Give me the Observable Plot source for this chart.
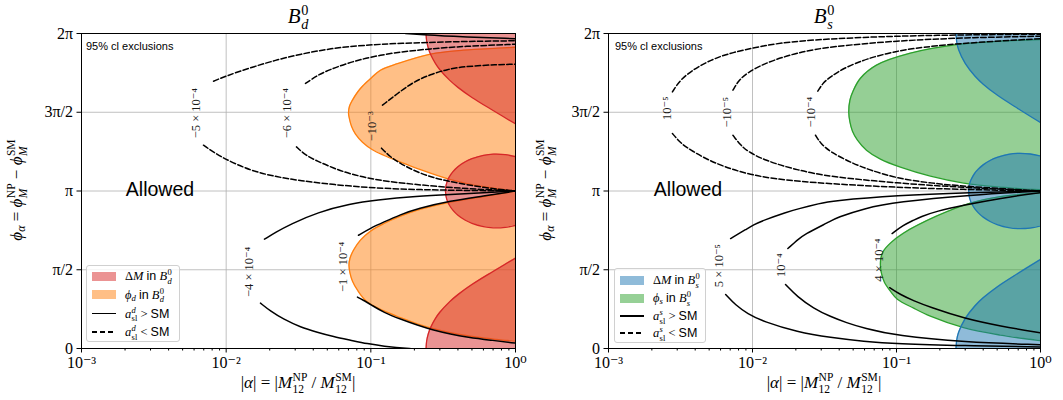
<!DOCTYPE html>
<html>
<head>
<meta charset="utf-8">
<script src="https://cdn.jsdelivr.net/npm/d3@7"></script>
<script src="https://cdn.jsdelivr.net/npm/@observablehq/plot@0.6"></script>
<style>
  html,body{margin:0;padding:0;background:#fff;}
  #wrap{position:relative;width:1063px;height:400px;overflow:hidden;font-family:"Liberation Serif","DejaVu Serif",serif;color:#000;}
  #wrap svg{position:absolute;top:0;}
  .t{position:absolute;white-space:nowrap;transform:translate(-50%,-50%);line-height:1;}
  .rot{transform:translate(-50%,-50%) rotate(-90deg);}
  .ss{display:inline-flex;flex-direction:column;vertical-align:0.6em;font-size:0.68em;line-height:1.0;margin-left:0.04em;}
  .sb{font-size:0.7em;vertical-align:-0.25em;}
  .sans{font-family:"Liberation Sans","DejaVu Sans",sans-serif;font-style:normal;}
  .legend{position:absolute;background:rgba(255,255,255,0.8);border:1px solid #d0d0d0;border-radius:3px;box-sizing:border-box;}
  .row{position:absolute;left:0;height:0;width:100%;}
  .sw{position:absolute;left:5px;width:24px;height:9px;top:-4.5px;}
  .ln{position:absolute;left:5px;width:24px;height:1.5px;top:-0.75px;background:#000;}
  .lnd{position:absolute;left:5px;width:24px;height:1.5px;top:-0.75px;background:repeating-linear-gradient(90deg,#000 0 5.5px,transparent 5.5px 8px);}
  .lt{position:absolute;left:38px;top:0;transform:translateY(-50%);font-size:12.5px;white-space:nowrap;line-height:1;}
</style>
</head>
<body>
<div id="wrap"></div>
<script>
// ---------- axes ----------
const xMajor = [0.001, 0.01, 0.1, 1];
const xMajorLabels = ["10⁻³", "10⁻²", "10⁻¹", "10⁰"];
const xMinor = [0.002,0.003,0.004,0.005,0.006,0.007,0.008,0.009,
                0.02,0.03,0.04,0.05,0.06,0.07,0.08,0.09,
                0.2,0.3,0.4,0.5,0.6,0.7,0.8,0.9];
const yMajor = [0, 0.5, 1, 1.5, 2];            // phi_alpha in units of pi
const yMajorLabels = ["0", "π/2", "π", "3π/2", "2π"];

// ---------- B_d panel : [alpha, phi/pi] ----------
const dmTopD = [[0.241,2.0],[0.243,1.954],[0.25,1.905],[0.26,1.863],[0.28,1.809],[0.3,1.770],[0.35,1.704],[0.4,1.658],[0.5,1.594],[0.7,1.511],[1,1.426]];
const dmBottomD = [[0.241,0],[0.243,0.046],[0.25,0.095],[0.26,0.137],[0.28,0.191],[0.3,0.230],[0.35,0.296],[0.4,0.342],[0.5,0.406],[0.7,0.489],[1,0.574]];
// [alpha, lower phi/pi, upper phi/pi]
const dmLobeD = [[0.328,1,1],[0.332,0.96,1.04],[0.34,0.931,1.069],[0.35,0.908,1.092],[0.37,0.877,1.123],[0.4,0.846,1.154],[0.45,0.814,1.186],[0.5,0.795,1.205],[0.6,0.774,1.226],[0.7,0.766,1.234],[0.85,0.769,1.231],[1,0.782,1.218]];
const phiUpperD = [[1,1.913],[0.7507,1.907],[0.4369,1.894],[0.2585,1.869],[0.1528,1.808],[0.1166,1.767],[0.09945,1.713],[0.08755,1.665],[0.08087,1.627],[0.07468,1.577],[0.07121,1.538],[0.07009,1.494],[0.07121,1.456],[0.0735,1.411],[0.07834,1.361],[0.08755,1.310],[0.1026,1.262],[0.1223,1.227],[0.1603,1.183],[0.2101,1.142],[0.3554,1.072],[0.6008,1.027],[1,1.0]];
const phiLowerD = [[1,1.0],[0.6008,0.964],[0.3554,0.929],[0.2101,0.878],[0.1603,0.840],[0.1223,0.792],[0.09945,0.745],[0.08481,0.688],[0.07588,0.624],[0.0718,0.573],[0.0706,0.529],[0.0718,0.478],[0.07468,0.427],[0.08087,0.370],[0.09333,0.300],[0.1223,0.240],[0.1603,0.196],[0.2101,0.157],[0.271,0.126],[0.3554,0.100],[0.4657,0.081],[0.6715,0.062],[1,0.046]];

const aslD_m5e4_up = [[0.00818,1.697],[0.00989,1.729],[0.01473,1.783],[0.02193,1.831],[0.03265,1.869],[0.05263,1.905],[0.08896,1.926],[0.1603,1.938],[0.3554,1.948],[1,1.954]];
const aslD_m5e4_lo = [[0.00697,1.291],[0.00914,1.215],[0.01473,1.129],[0.02193,1.091],[0.03265,1.065],[0.05518,1.040],[0.1077,1.018],[0.2204,1.008],[0.4886,1.003],[1,1.0]];
const aslD_m6e4_up = [[0.03535,1.683],[0.04278,1.735],[0.05263,1.773],[0.0690,1.811],[0.08896,1.840],[0.1166,1.862],[0.1528,1.881],[0.2585,1.903],[0.4369,1.919],[1,1.932]];
const aslD_m6e4_lo = [[0.03062,1.280],[0.03535,1.227],[0.04278,1.189],[0.05518,1.145],[0.07235,1.107],[0.1077,1.072],[0.1603,1.050],[0.3554,1.021],[0.6008,1.010],[1,1.0]];
const aslD_m1e3_up = [[0.1204,1.545],[0.1528,1.619],[0.1972,1.693],[0.2585,1.740],[0.3388,1.773],[0.4369,1.790],[0.7507,1.803],[1,1.805]];
const aslD_m1e3_lo = [[0.1185,1.272],[0.1367,1.215],[0.1603,1.173],[0.2101,1.119],[0.2710,1.084],[0.3554,1.059],[0.6008,1.021],[1,1.0]];
const aslD_m4e4_up = [[0.0184,0.694],[0.02193,0.738],[0.02784,0.789],[0.04278,0.865],[0.07235,0.919],[0.1077,0.942],[0.2101,0.967],[0.3554,0.978],[0.6008,0.988],[1,1.0]];
const aslD_m4e4_lo = [[0.01727,0.288],[0.02025,0.237],[0.0249,0.186],[0.03265,0.135],[0.04278,0.103],[0.05518,0.075],[0.07235,0.053],[0.09482,0.030],[0.1223,0.015],[0.1736,0.0],[0.3554,-0.019],[1,-0.033]];
const aslD_m4e4_wrap = [[0.1736,2.0],[0.3554,1.981],[1,1.967]];
const aslD_m1e4_up = [[0.08216,0.719],[0.09945,0.764],[0.1223,0.802],[0.1603,0.850],[0.2101,0.888],[0.3554,0.938],[0.6008,0.967],[1,1.0]];
const aslD_m1e4_lo = [[0.08087,0.326],[0.08755,0.310],[0.1026,0.272],[0.1223,0.230],[0.1603,0.186],[0.2101,0.148],[0.271,0.116],[0.3554,0.091],[0.4657,0.072],[0.6715,0.053],[1,0.034]];
const aslLabelsD = [
  {a:0.00617, p:1.494, t:"−5 × 10⁻⁴"},
  {a:0.02654, p:1.494, t:"−6 × 10⁻⁴"},
  {a:0.1026,  p:1.411, t:"−10⁻³"},
  {a:0.01427, p:0.486, t:"−4 × 10⁻⁴"},
  {a:0.0647,  p:0.518, t:"−1 × 10⁻⁴"}
];

// ---------- B_s panel ----------
const dmTopS = [[0.259,2.0],[0.262,1.946],[0.27,1.897],[0.3,1.81],[0.35,1.73],[0.4,1.678],[0.5,1.609],[0.7,1.522],[1,1.434]];
const dmBottomS = [[0.259,0],[0.262,0.054],[0.27,0.103],[0.3,0.19],[0.35,0.27],[0.4,0.322],[0.5,0.391],[0.7,0.478],[1,0.566]];
const dmLobeS = [[0.317,1,1],[0.32,0.964,1.036],[0.325,0.942,1.058],[0.33,0.927,1.073],[0.35,0.886,1.114],[0.37,0.861,1.139],[0.4,0.834,1.166],[0.45,0.805,1.195],[0.5,0.787,1.213],[0.6,0.767,1.233],[0.7,0.761,1.239],[0.85,0.765,1.235],[1,0.778,1.222]];
const phiUpperS = [[1,1.961],[0.5255,1.951],[0.2602,1.929],[0.1248,1.875],[0.07256,1.799],[0.0562,1.716],[0.05025,1.640],[0.04751,1.577],[0.04661,1.500],[0.04751,1.437],[0.04945,1.380],[0.05356,1.323],[0.06185,1.259],[0.07731,1.202],[0.1064,1.151],[0.1718,1.094],[0.2924,1.050],[0.5255,1.024],[1,1.008]];
const phiLowerS = [[1,0.989],[0.5255,0.964],[0.3255,0.923],[0.1891,0.840],[0.1116,0.732],[0.09073,0.669],[0.0811,0.618],[0.07794,0.573],[0.07731,0.529],[0.07857,0.478],[0.0824,0.421],[0.09073,0.364],[0.1014,0.313],[0.1316,0.256],[0.1718,0.205],[0.2924,0.132],[0.5255,0.085],[1,0.050]];

const aslS_p1e5_up = [[0.002779,1.629],[0.003172,1.712],[0.004143,1.788],[0.0054,1.840],[0.007049,1.877],[0.012,1.924],[0.02045,1.954],[0.05923,1.977],[0.1718,1.989],[1,1.996]];
const aslS_p1e5_lo = [[0.002779,1.365],[0.003172,1.303],[0.003721,1.259],[0.0054,1.175],[0.01006,1.094],[0.02045,1.060],[0.05923,1.033],[0.1718,1.014],[1,1.0]];
const aslS_m1e5_up = [[0.007314,1.640],[0.008009,1.703],[0.0092,1.750],[0.012,1.810],[0.02045,1.880],[0.0348,1.917],[0.1006,1.954],[0.2924,1.973],[1,1.983]];
const aslS_m1e5_lo = [[0.007314,1.354],[0.008272,1.291],[0.0092,1.253],[0.012,1.196],[0.02045,1.132],[0.0348,1.090],[0.1006,1.050],[0.2924,1.022],[1,1.0]];
const aslS_m1e4_up = [[0.02842,1.634],[0.03112,1.691],[0.0348,1.724],[0.04283,1.780],[0.05923,1.831],[0.07291,1.857],[0.1006,1.887],[0.1248,1.903],[0.2602,1.937],[1,1.967]];
const aslS_m1e4_lo = [[0.02739,1.354],[0.02966,1.303],[0.0348,1.246],[0.05025,1.173],[0.06592,1.132],[0.1006,1.081],[0.1718,1.050],[0.2924,1.030],[1,1.0]];
const aslS_p5e5_up = [[0.007049,0.698],[0.0092,0.761],[0.01006,0.783],[0.012,0.815],[0.01724,0.866],[0.02045,0.885],[0.02966,0.922],[0.0348,0.936],[0.1006,0.973],[0.3255,0.990],[1,1.0]];
const aslS_p5e5_lo = [[0.00651,0.343],[0.007634,0.275],[0.0092,0.222],[0.012,0.169],[0.02045,0.105],[0.0348,0.069],[0.05923,0.045],[0.1006,0.030],[0.2924,0.018],[1,0.010]];
const aslS_p1e4_up = [[0.0176,0.635],[0.02045,0.688],[0.02262,0.722],[0.0348,0.808],[0.03829,0.830],[0.05923,0.889],[0.1006,0.931],[0.3255,0.975],[1,1.0]];
const aslS_p1e4_lo = [[0.01696,0.406],[0.02045,0.329],[0.02653,0.255],[0.0348,0.202],[0.04494,0.164],[0.05923,0.129],[0.1006,0.081],[0.2924,0.040],[1,0.024]];
const aslS_p4e4_up = [[0.09322,0.730],[0.1116,0.783],[0.1316,0.815],[0.1464,0.836],[0.1891,0.872],[0.2924,0.910],[0.5255,0.954],[1,0.99]];
const aslS_p4e4_lo = [[0.0897,0.386],[0.1064,0.342],[0.1316,0.303],[0.1718,0.262],[0.2924,0.192],[0.5255,0.142],[1,0.100]];
const aslLabelsS = [
  {a:0.002566, p:1.526, t:"10⁻⁵"},
  {a:0.00669,  p:1.5,   t:"−10⁻⁵"},
  {a:0.02529,  p:1.5,   t:"−10⁻⁴"},
  {a:0.00585,  p:0.526, t:"5 × 10⁻⁵"},
  {a:0.01584,  p:0.529, t:"10⁻⁴"},
  {a:0.07528,  p:0.561, t:"4 × 10⁻⁴"}
];

// ---------- drawing ----------
const serif = "Liberation Serif, DejaVu Serif, serif";
const X = d => d[0], Y = d => d[1];

function panel(cfg) {
  const marks = [
    Plot.gridX([0.01, 0.1], {stroke: "#b0b0b0", strokeOpacity: 1, strokeWidth: 0.8}),
    Plot.gridY([0.5, 1, 1.5], {stroke: "#b0b0b0", strokeOpacity: 1, strokeWidth: 0.8})
  ];
  for (const reg of cfg.phi) {
    marks.push(Plot.areaX(reg, {y: Y, x1: X, x2: 1, fill: cfg.phiColor, fillOpacity: 0.5, curve: "catmull-rom", clip: true}));
    marks.push(Plot.line(reg, {x: X, y: Y, stroke: cfg.phiColor, strokeWidth: 1.3, curve: "catmull-rom", clip: true}));
  }
  marks.push(Plot.areaY(cfg.dmTop, {x: X, y1: Y, y2: 2, fill: cfg.dmColor, fillOpacity: 0.5, curve: "catmull-rom", clip: true}));
  marks.push(Plot.line(cfg.dmTop, {x: X, y: Y, stroke: cfg.dmColor, strokeWidth: 1.3, curve: "catmull-rom", clip: true}));
  marks.push(Plot.areaY(cfg.dmBottom, {x: X, y1: 0, y2: Y, fill: cfg.dmColor, fillOpacity: 0.5, curve: "catmull-rom", clip: true}));
  marks.push(Plot.line(cfg.dmBottom, {x: X, y: Y, stroke: cfg.dmColor, strokeWidth: 1.3, curve: "catmull-rom", clip: true}));
  marks.push(Plot.areaY(cfg.dmLobe, {x: X, y1: d => d[1], y2: d => d[2], fill: cfg.dmColor, fillOpacity: 0.5, curve: "catmull-rom", clip: true}));
  marks.push(Plot.line(cfg.dmLobe, {x: X, y: d => d[1], stroke: cfg.dmColor, strokeWidth: 1.3, curve: "catmull-rom", clip: true}));
  marks.push(Plot.line(cfg.dmLobe, {x: X, y: d => d[2], stroke: cfg.dmColor, strokeWidth: 1.3, curve: "catmull-rom", clip: true}));
  for (const c of cfg.contours) {
    marks.push(Plot.line(c.pts, {x: X, y: Y, stroke: "#000", strokeWidth: 1.5,
      strokeDasharray: c.dashed ? "5.5,2.4" : undefined, curve: "basis", clip: true}));
  }
  marks.push(Plot.text(cfg.labels, {x: d => d.a, y: d => d.p, text: d => d.t, rotate: -90,
    fontSize: 12.5, fontFamily: serif, fill: "#1a1a1a"}));
  marks.push(Plot.axisX(xMinor, {tickSize: 2.5, tickFormat: () => "", label: null}));
  marks.push(Plot.axisX(xMajor, {tickSize: 4.5, tickPadding: 4, tickFormat: d => xMajorLabels[xMajor.indexOf(d)],
    fontSize: 16, fontFamily: serif, label: null}));
  marks.push(Plot.axisY(yMajor, {tickSize: 4.5, tickPadding: 4, tickFormat: d => yMajorLabels[yMajor.indexOf(d)],
    fontSize: 16, fontFamily: serif, label: null}));
  marks.push(Plot.frame({stroke: "#000", strokeWidth: 1}));
  const svg = Plot.plot({
    width: cfg.width, height: 400,
    marginLeft: cfg.ml, marginRight: cfg.mr, marginTop: 33, marginBottom: 52,
    x: {type: "log", domain: [0.001, 1]},
    y: {domain: [0, 2]},
    style: {background: "transparent", overflow: "visible", fontFamily: serif},
    marks
  });
  svg.style.left = cfg.left + "px";
  return svg;
}

const wrap = document.getElementById("wrap");
wrap.appendChild(panel({
  left: 0, width: 531, ml: 81, mr: 16,
  phi: [phiUpperD, phiLowerD], phiColor: "#ff7f0e",
  dmTop: dmTopD, dmBottom: dmBottomD, dmLobe: dmLobeD, dmColor: "#d62728",
  contours: [
    {pts: aslD_m5e4_up, dashed: true}, {pts: aslD_m5e4_lo, dashed: true},
    {pts: aslD_m6e4_up, dashed: true}, {pts: aslD_m6e4_lo, dashed: true},
    {pts: aslD_m1e3_up, dashed: true}, {pts: aslD_m1e3_lo, dashed: true},
    {pts: aslD_m4e4_up}, {pts: aslD_m4e4_lo}, {pts: aslD_m4e4_wrap},
    {pts: aslD_m1e4_up}, {pts: aslD_m1e4_lo}
  ],
  labels: aslLabelsD
}));
wrap.appendChild(panel({
  left: 531, width: 532, ml: 77, mr: 23,
  phi: [phiUpperS, phiLowerS], phiColor: "#2ca02c",
  dmTop: dmTopS, dmBottom: dmBottomS, dmLobe: dmLobeS, dmColor: "#1f77b4",
  contours: [
    {pts: aslS_p1e5_up, dashed: true}, {pts: aslS_p1e5_lo, dashed: true},
    {pts: aslS_m1e5_up, dashed: true}, {pts: aslS_m1e5_lo, dashed: true},
    {pts: aslS_m1e4_up, dashed: true}, {pts: aslS_m1e4_lo, dashed: true},
    {pts: aslS_p5e5_up}, {pts: aslS_p5e5_lo},
    {pts: aslS_p1e4_up}, {pts: aslS_p1e4_lo},
    {pts: aslS_p4e4_up}, {pts: aslS_p4e4_lo}
  ],
  labels: aslLabelsS
}));

// ---------- text overlays ----------
function add(html, cls, x, y, size, extra) {
  const el = document.createElement("div");
  el.className = cls;
  el.style.left = x + "px"; el.style.top = y + "px"; el.style.fontSize = size + "px";
  if (extra) el.setAttribute("style", el.getAttribute("style") + ";" + extra);
  el.innerHTML = html;
  wrap.appendChild(el);
  return el;
}
const ss = (sup, sub) => `<span class="ss"><span>${sup}</span><span>${sub}</span></span>`;
const mesons = [
  {q: "d", cx: 298, ylab: 18, legX: 86, legY: 265, legW: 94, legH: 77, rows: [10, 28.7, 47.5, 66],
   dm: "#eb9393", ph: "#ffbf86", allowX: 160, noteX: 86},
  {q: "s", cx: 824, ylab: 547, legX: 614, legY: 268, legW: 92, legH: 75, rows: [11, 29, 47, 64],
   dm: "#8fbbd9", ph: "#96d096", allowX: 688, noteX: 615}
];
for (const m of mesons) {
  add(`<i>B</i>${ss("0", "<i>" + m.q + "</i>")}`, "t", m.cx, 17, 21);
  add(`|<i>α</i>| = |<i>M</i>${ss("NP", "12")} / <i>M</i>${ss("SM", "12")}|`, "t", m.cx, 384, 17);
  add(`<i>ϕ</i><span class="sb"><i>α</i></span> = <i>ϕ</i>${ss("NP", "<i>M</i>")} − <i>ϕ</i>${ss("SM", "<i>M</i>")}`, "t rot", m.ylab, 190, 17);
  add("Allowed", "t sans", m.allowX, 190, 19.5);
  add("95% cl exclusions", "sans", m.noteX, 40, 11, "position:absolute;white-space:nowrap;");
  const leg = document.createElement("div");
  leg.className = "legend";
  leg.style.cssText = `left:${m.legX}px;top:${m.legY}px;width:${m.legW}px;height:${m.legH}px;`;
  const items = [
    [`<span class="sw" style="background:${m.dm}"></span>`, `Δ<i>M</i> <span class="sans">in</span> <i>B</i>${ss("0", "<i>" + m.q + "</i>")}`],
    [`<span class="sw" style="background:${m.ph}"></span>`, `<i>ϕ</i><span class="sb"><i>${m.q}</i></span> <span class="sans">in</span> <i>B</i>${ss("0", "<i>" + m.q + "</i>")}`],
    [`<span class="ln"></span>`, `<i>a</i>${ss("<i>" + m.q + "</i>", "sl")} &gt; <span class="sans">SM</span>`],
    [`<span class="lnd"></span>`, `<i>a</i>${ss("<i>" + m.q + "</i>", "sl")} &lt; <span class="sans">SM</span>`]
  ];
  items.forEach((it, i) => {
    const r = document.createElement("div");
    r.className = "row";
    r.style.top = m.rows[i] + "px";
    r.innerHTML = it[0] + `<span class="lt">${it[1]}</span>`;
    leg.appendChild(r);
  });
  wrap.appendChild(leg);
}
</script>
</body>
</html>
